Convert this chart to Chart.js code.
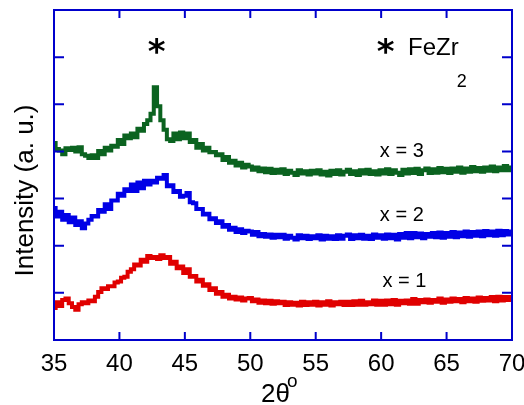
<!DOCTYPE html>
<html>
<head>
<meta charset="utf-8">
<script src="https://cdn.jsdelivr.net/npm/chart.js@4/dist/chart.umd.min.js"></script>
<style>
  html, body { margin: 0; padding: 0; background: #fff; }
  #wrap { width: 524px; height: 405px; }
</style>
</head>
<body>
<div id="wrap"><canvas id="c" width="524" height="405"></canvas></div>
<script>
// 2-theta positions (degrees)
const twoTheta = [
  35.00,35.25,35.50,35.75,36.00,36.25,36.50,36.75,37.00,37.25,
  37.50,37.75,38.00,38.25,38.50,38.75,39.00,39.25,39.50,39.75,
  40.00,40.25,40.50,40.75,41.00,41.25,41.50,41.75,42.00,42.25,
  42.50,42.75,43.00,43.25,43.50,43.75,44.00,44.25,44.50,44.75,
  45.00,45.25,45.50,45.75,46.00,46.25,46.50,46.75,47.00,47.25,
  47.50,47.75,48.00,48.25,48.50,48.75,49.00,49.25,49.50,49.75,
  50.00,50.25,50.50,50.75,51.00,51.25,51.50,51.75,52.00,52.25,
  52.50,52.75,53.00,53.25,53.50,53.75,54.00,54.25,54.50,54.75,
  55.00,55.25,55.50,55.75,56.00,56.25,56.50,56.75,57.00,57.25,
  57.50,57.75,58.00,58.25,58.50,58.75,59.00,59.25,59.50,59.75,
  60.00,60.25,60.50,60.75,61.00,61.25,61.50,61.75,62.00,62.25,
  62.50,62.75,63.00,63.25,63.50,63.75,64.00,64.25,64.50,64.75,
  65.00,65.25,65.50,65.75,66.00,66.25,66.50,66.75,67.00,67.25,
  67.50,67.75,68.00,68.25,68.50,68.75,69.00,69.25,69.50,69.75,
  70.00
];
// x = 3 (green, offset)
const seriesX3 = [
  4.18,4.05,4.02,3.94,4.07,4.03,4.08,4.00,4.09,3.94,
  3.91,3.86,3.92,3.86,4.01,3.94,4.08,4.02,4.12,4.10,
  4.24,4.16,4.34,4.28,4.38,4.30,4.48,4.44,4.58,4.66,
  4.80,5.36,4.96,4.66,4.46,4.26,4.22,4.38,4.26,4.40,
  4.28,4.38,4.20,4.24,4.08,4.16,4.02,4.08,3.98,3.99,
  3.92,3.94,3.82,3.88,3.76,3.80,3.70,3.76,3.66,3.72,
  3.68,3.61,3.66,3.58,3.64,3.56,3.63,3.54,3.61,3.55,
  3.62,3.52,3.59,3.55,3.50,3.60,3.53,3.58,3.51,3.59,
  3.53,3.60,3.51,3.57,3.49,3.59,3.52,3.60,3.51,3.57,
  3.61,3.52,3.58,3.50,3.60,3.53,3.61,3.52,3.58,3.51,
  3.60,3.53,3.62,3.52,3.60,3.55,3.50,3.61,3.53,3.62,
  3.54,3.63,3.52,3.60,3.64,3.54,3.62,3.55,3.65,3.56,
  3.63,3.54,3.64,3.57,3.66,3.55,3.64,3.57,3.67,3.58,
  3.65,3.57,3.66,3.59,3.68,3.58,3.66,3.60,3.69,3.60,
  3.66
];
// x = 2 (blue, offset)
const seriesX2 = [
  2.80,2.62,2.72,2.55,2.65,2.50,2.60,2.44,2.52,2.37,
  2.47,2.55,2.63,2.62,2.76,2.72,2.88,2.78,2.96,2.96,
  3.10,3.06,3.20,3.16,3.30,3.16,3.34,3.22,3.38,3.30,
  3.38,3.34,3.44,3.42,3.50,3.26,3.28,3.14,3.16,3.04,
  3.06,3.12,2.92,2.90,2.78,2.78,2.66,2.68,2.56,2.58,
  2.48,2.52,2.40,2.44,2.34,2.38,2.29,2.35,2.27,2.32,
  2.30,2.23,2.29,2.20,2.25,2.19,2.24,2.17,2.23,2.18,
  2.23,2.15,2.21,2.17,2.13,2.22,2.16,2.21,2.14,2.20,
  2.16,2.22,2.13,2.21,2.15,2.20,2.14,2.22,2.15,2.21,
  2.24,2.14,2.22,2.16,2.23,2.15,2.21,2.14,2.24,2.17,
  2.22,2.15,2.24,2.16,2.23,2.13,2.25,2.17,2.27,2.16,
  2.27,2.18,2.26,2.16,2.25,2.19,2.27,2.18,2.28,2.17,
  2.27,2.19,2.29,2.18,2.28,2.20,2.30,2.19,2.29,2.21,
  2.30,2.20,2.31,2.22,2.30,2.21,2.32,2.22,2.31,2.24,
  2.30
];
// x = 1 (red)
const seriesX1 = [
  0.68,0.80,0.72,0.85,0.88,0.78,0.70,0.64,0.76,0.80,
  0.78,0.84,0.82,0.92,1.02,1.10,1.08,1.14,1.14,1.22,
  1.24,1.32,1.34,1.45,1.50,1.60,1.58,1.70,1.66,1.78,
  1.74,1.76,1.72,1.80,1.74,1.76,1.62,1.66,1.52,1.56,
  1.42,1.50,1.34,1.36,1.24,1.28,1.15,1.18,1.06,1.10,
  0.98,1.02,0.92,0.96,0.88,0.92,0.86,0.90,0.84,0.88,
  0.89,0.82,0.86,0.79,0.84,0.78,0.83,0.77,0.82,0.78,
  0.81,0.74,0.80,0.75,0.79,0.73,0.81,0.74,0.80,0.75,
  0.81,0.73,0.80,0.75,0.82,0.73,0.80,0.76,0.81,0.74,
  0.81,0.74,0.82,0.75,0.83,0.75,0.80,0.76,0.84,0.75,
  0.83,0.75,0.84,0.76,0.85,0.75,0.83,0.78,0.84,0.77,
  0.87,0.77,0.85,0.80,0.86,0.79,0.85,0.81,0.88,0.79,
  0.86,0.81,0.88,0.82,0.87,0.80,0.89,0.82,0.88,0.81,
  0.90,0.83,0.89,0.84,0.91,0.82,0.92,0.84,0.91,0.85,
  0.91
];
const xTickValues = [35, 40, 45, 50, 55, 60, 65, 70];
const yTickValues = [0, 1, 2, 3, 4, 5, 6, 7];
const seriesLabels = ['x = 1', 'x = 2', 'x = 3'];

function pts(ys) { return twoTheta.map((x, i) => ({ x: x, y: ys[i] })); }

const FRAME = '#0000cc';
const FONT = '"Liberation Sans", Arial, sans-serif';

const framePlugin = {
  id: 'frame',
  afterDraw(chart) {
    const ctx = chart.ctx;
    const a = chart.chartArea;
    const xs = chart.scales.x, ys = chart.scales.y;
    ctx.save();
    ctx.strokeStyle = FRAME;
    ctx.lineWidth = 2;
    ctx.strokeRect(a.left, a.top, a.right - a.left, a.bottom - a.top);
    ctx.beginPath();
    xTickValues.forEach(v => {
      const px = xs.getPixelForValue(v);
      ctx.moveTo(px, a.bottom); ctx.lineTo(px, a.bottom - 8);
      ctx.moveTo(px, a.top); ctx.lineTo(px, a.top + 8);
    });
    yTickValues.forEach(v => {
      const py = ys.getPixelForValue(v);
      ctx.moveTo(a.left, py); ctx.lineTo(a.left + 10, py);
      ctx.moveTo(a.right, py); ctx.lineTo(a.right - 10, py);
    });
    ctx.stroke();

    // axis titles
    ctx.fillStyle = '#000';
    ctx.font = '26px ' + FONT;
    ctx.textBaseline = 'alphabetic';
    ctx.textAlign = 'left';
    const cx = (a.left + a.right) / 2;
    ctx.fillText('2θ', cx - 22, 402);
    ctx.font = '19px ' + FONT;
    ctx.fillText('o', cx + 4, 387);

    ctx.save();
    ctx.translate(33, 190.5);
    ctx.rotate(-Math.PI / 2);
    ctx.font = '26px ' + FONT;
    ctx.textAlign = 'center';
    ctx.fillText('Intensity (a. u.)', 0, 0);
    ctx.restore();

    // annotations
    ctx.font = 'bold 34px "DejaVu Sans", sans-serif';
    ctx.textAlign = 'center';
    ctx.textBaseline = 'middle';
    ctx.fillText('*', xs.getPixelForValue(42.85), 54);
    ctx.fillText('*', xs.getPixelForValue(60.35), 54);

    ctx.textAlign = 'left';
    ctx.textBaseline = 'alphabetic';
    ctx.font = '24px ' + FONT;
    const fx = xs.getPixelForValue(62.05);
    ctx.fillText('FeZr', fx, 55);
    const fw = ctx.measureText('FeZr').width;
    ctx.font = '18px ' + FONT;
    ctx.fillText('2', fx + fw - 2, 87);

    ctx.font = '20px ' + FONT;
    ctx.fillText(seriesLabels[2], xs.getPixelForValue(59.9), 157);
    ctx.fillText(seriesLabels[1], xs.getPixelForValue(59.9), 221);
    ctx.fillText(seriesLabels[0], xs.getPixelForValue(60.1), 287);
    ctx.restore();
  }
};

const lineStyle = { borderWidth: 4, pointRadius: 0, tension: 0, stepped: 'middle' };

new Chart(document.getElementById('c'), {
  type: 'line',
  data: {
    datasets: [
      Object.assign({ label: seriesLabels[0], data: pts(seriesX1), borderColor: '#e00000' }, lineStyle),
      Object.assign({ label: seriesLabels[1], data: pts(seriesX2), borderColor: '#0000e6' }, lineStyle),
      Object.assign({ label: seriesLabels[2], data: pts(seriesX3), borderColor: '#0b6320' }, lineStyle)
    ]
  },
  options: {
    responsive: false,
    animation: false,
    layout: { padding: { top: 10, right: 12, left: 0, bottom: 0 } },
    plugins: { legend: { display: false }, tooltip: { enabled: false } },
    scales: {
      x: {
        type: 'linear', min: 35, max: 70,
        grid: { display: false, drawTicks: false },
        border: { display: false },
        ticks: {
          stepSize: 5, autoSkip: false, maxRotation: 0, padding: 10,
          color: '#000', font: { size: 24, family: FONT }
        },
        afterFit(s) { s.height = 65; s.paddingLeft = 0; s.paddingRight = 0; }
      },
      y: {
        min: 0, max: 7,
        grid: { display: false, drawTicks: false },
        border: { display: false },
        ticks: { display: false, stepSize: 1 },
        afterFit(s) { s.width = 54; s.paddingTop = 0; s.paddingBottom = 0; }
      }
    }
  },
  plugins: [framePlugin]
});
</script>
</body>
</html>
